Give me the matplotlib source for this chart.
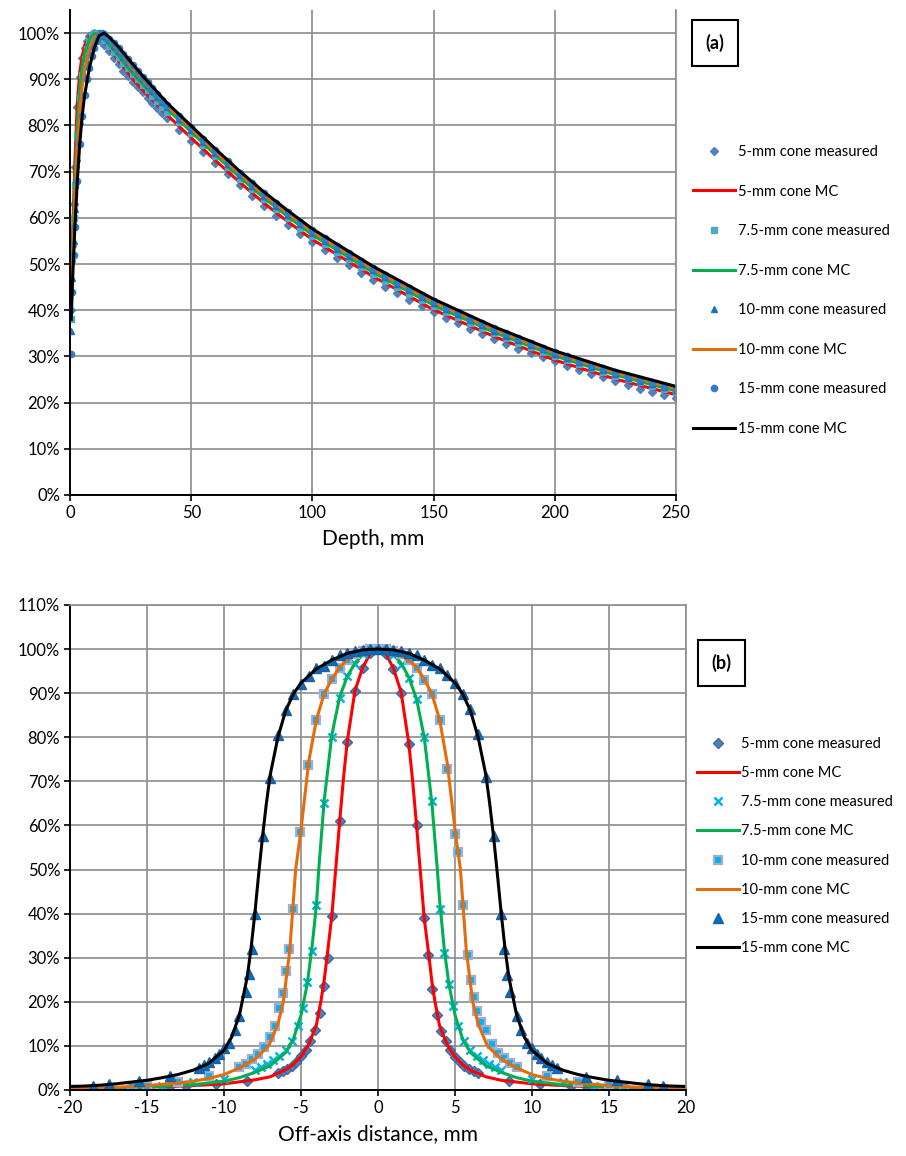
import matplotlib
matplotlib.use('Agg')
import matplotlib.pyplot as plt

plt.rcParams['font.family'] = ['Lato', 'DejaVu Sans']
plt.rcParams['axes.unicode_minus'] = False

# ---------------- (a) depth dose curves ----------------
mc_depth = [0.5, 1, 2, 3, 4, 5, 6, 8, 10, 12, 14, 16, 20, 25, 30, 40, 50, 60, 70, 80,
            90, 100, 125, 150, 175, 200, 225, 250]
mc_5 = [42, 55, 72, 85, 91.5, 95, 97.3, 99.4, 100, 99.4, 98.2, 96.8, 94.0, 90.6, 87.6, 82.3,
        77.3, 72.4, 67.7, 63.2, 59.1, 55.3, 47.3, 40.1, 34.3, 29.2, 25.1, 21.7]
mc_75 = [41, 53, 68, 80, 88, 92.5, 95.5, 98.7, 99.9, 99.8, 98.8, 97.6, 95.1, 91.8, 88.9, 83.6,
         78.6, 73.6, 68.8, 64.3, 60.2, 56.3, 48.2, 41.1, 35.2, 30.1, 26.0, 22.5]
mc_10 = [39.5, 50, 64, 75, 83, 88.5, 92, 96.5, 99, 100, 99.5, 98.4, 96.2, 92.8, 89.8, 84.3,
         79.3, 74.3, 69.5, 65.0, 60.9, 57.0, 48.9, 41.8, 35.8, 30.7, 26.5, 23.0]
mc_15 = [38, 46, 58, 68, 76, 82, 86.5, 92.5, 96.8, 99.4, 100, 99.2, 97.0, 93.8, 90.7, 84.9,
         79.9, 74.9, 70.1, 65.6, 61.5, 57.6, 49.5, 42.4, 36.4, 31.2, 27.0, 23.5]

meas_depth = [0.5, 1, 1.5, 2, 3, 4, 5, 6, 7, 8, 9, 10, 11, 12, 13, 14, 16, 18, 20, 22, 24, 26,
              28, 30, 32, 34, 36, 38,
              40, 45, 50, 55, 60, 65, 70, 75, 80, 85, 90, 95, 100, 105, 110, 115, 120, 125,
              130, 135, 140, 145, 150, 155, 160, 165, 170, 175, 180, 185, 190, 195, 200, 205,
              210, 215, 220, 225, 230, 235, 240, 245, 250]
meas_5 = [40, 54, 63, 71, 84, 90.5, 94.5, 96.8, 98.3, 99.3, 99.8, 100, 99.6, 99.0, 98.3, 97.5,
          96.2, 94.7, 93.3, 91.8, 90.6, 89.5, 88.3, 87.2, 86.0, 84.9, 83.8, 82.7,
          81.6, 79.1, 76.7, 74.2, 71.8, 69.4, 67.1, 64.8, 62.6, 60.5, 58.5, 56.6, 54.7, 53.0,
          51.3, 49.7, 48.1, 46.6, 45.1, 43.7, 42.3, 40.9, 39.6, 38.4, 37.2, 36.0, 34.9, 33.8,
          32.7, 31.7, 30.7, 29.8, 28.9, 28.0, 27.1, 26.3, 25.5, 24.7, 23.8, 23.0, 22.3, 21.6,
          21.0]
meas_75 = [38, 51, 60, 67, 78, 86, 91, 94.3, 96.6, 98.2, 99.3, 99.9, 100, 99.7, 99.2, 98.5,
           97.2, 96.0, 94.8, 93.6, 92.4, 91.2, 90.0, 88.8, 87.6, 86.4, 85.2, 84.0,
           83.0, 80.7, 78.3, 75.8, 73.3, 70.9, 68.5, 66.2, 64.0, 61.9, 59.9, 57.9, 56.0, 54.3,
           52.6, 51.0, 49.4, 47.9, 46.4, 45.0, 43.6, 42.3, 41.0, 39.7, 38.5, 37.3, 36.2, 35.1,
           34.0, 33.0, 32.0, 31.0, 30.1, 29.2, 28.3, 27.4, 26.6, 25.8, 25.1, 24.4, 23.7, 23.0,
           22.4]
meas_10 = [35.5, 47, 55, 62, 73, 81, 86.5, 90.5, 93.5, 95.8, 97.5, 98.8, 99.6, 100, 99.8, 99.4,
           98.4, 97.3, 96.1, 94.9, 93.7, 92.5, 91.2, 90.0, 88.7, 87.4, 86.2, 85.0,
           84.0, 81.4, 79.0, 76.5, 74.0, 71.6, 69.2, 66.9, 64.7, 62.6, 60.6, 58.6, 56.7, 55.0,
           53.3, 51.7, 50.1, 48.6, 47.1, 45.7, 44.3, 42.9, 41.6, 40.3, 39.1, 37.9, 36.7, 35.6,
           34.5, 33.5, 32.5, 31.5, 30.5, 29.6, 28.7, 27.8, 27.0, 26.2, 25.4, 24.7, 24.0, 23.3,
           22.7]
meas_15 = [30.5, 44, 52, 58, 68, 76, 82, 86.5, 90, 92.5, 95, 96.8, 98.2, 99.3, 100, 99.7,
           98.8, 97.8, 96.7, 95.5, 94.3, 93.0, 91.8, 90.5, 89.3, 88.0, 86.8, 85.5,
           84.5, 82.0, 79.6, 77.1, 74.6, 72.2, 69.8, 67.5, 65.3, 63.2, 61.2, 59.2, 57.3, 55.6,
           53.9, 52.3, 50.7, 49.2, 47.7, 46.2, 44.8, 43.4, 42.1, 40.8, 39.6, 38.4, 37.2, 36.1,
           35.0, 33.9, 32.9, 31.9, 30.9, 30.0, 29.1, 28.2, 27.4, 26.6, 25.8, 25.1, 24.4, 23.7,
           23.1]

# ---------------- (b) off-axis profiles ----------------
mc5_x = [-20, -16, -12, -10, -8, -7, -6, -5.5, -5, -4.5, -4, -3.7, -3.5, -3.3, -3, -2.75, -2.5,
         -2.25, -2, -1.5, -1, -0.5, 0, 0.5, 1, 1.5, 2, 2.25, 2.5, 2.75, 3, 3.3, 3.5, 3.7, 4, 4.5,
         5, 5.5, 6, 7, 8, 10, 12, 16, 20]
mc5_y = [0.2, 0.5, 1.0, 1.4, 2.3, 3.0, 4.6, 5.8, 7.6, 10.3, 14.8, 20.3, 24.8, 30.5, 39.5, 50,
         60.5, 70.5, 79, 90.5, 95.8, 99, 100, 99, 95.6, 90.2, 78.5, 70, 60, 49.5, 39, 30.5, 24.5,
         20, 14.5, 10.2, 7.5, 5.7, 4.5, 3.0, 2.2, 1.4, 1.0, 0.5, 0.2]
mc75_x = [-20, -16, -12, -10, -9, -8, -7, -6, -5.5, -5, -4.6, -4.3, -4, -3.85, -3.5, -3, -2.5,
          -2, -1.5, -1, 0, 1, 1.5, 2, 2.5, 3, 3.5, 3.85, 4, 4.3, 4.6, 5, 5.5, 6, 7, 8, 9, 10,
          12, 16, 20]
mc75_y = [0.3, 0.5, 1.2, 2.0, 2.8, 4.0, 5.5, 8.5, 11.5, 17, 24, 32, 42, 50, 65.5, 80.5, 89,
          93.8, 96.8, 98.8, 100, 98.8, 96.8, 93.6, 88.7, 80, 65, 50, 43, 32, 24, 17, 11.5, 8.5,
          5.5, 4.0, 2.8, 2.0, 1.2, 0.5, 0.3]
mc10_x = [-20, -17, -15, -13, -12, -11, -10, -9, -8, -7.1, -6.5, -6.15, -5.73, -5.35, -5, -4.5,
          -4, -3.5, -3, -2.5, -2, -1, 0, 1, 2, 2.5, 3, 3.5, 4, 4.5, 5, 5.35, 5.73, 6.15, 6.5,
          7.1, 8, 9, 10, 11, 12, 13, 15, 17, 20]
mc10_y = [0.3, 0.6, 1.0, 1.6, 2.0, 2.6, 3.5, 5.0, 7.0, 10, 15, 20, 31.7, 50, 59, 74.5, 84,
          89.8, 93.2, 95.8, 97.6, 99.5, 100, 99.5, 97.5, 95.8, 93.2, 89.8, 84, 74, 59, 50, 31.7,
          20, 15, 10, 7.0, 5.0, 3.5, 2.6, 2.0, 1.6, 1.0, 0.6, 0.3]
mc15_x = [-20, -19, -18, -17, -16, -15, -14, -13, -12, -11, -10, -9.5, -9, -8.5, -8.25, -8,
          -7.75, -7.5, -7.25, -7, -6.5, -6, -5.5, -5, -4, -3, -2, -1, 0, 1, 2, 3, 4, 5, 5.5, 6,
          6.5, 7, 7.25, 7.5, 7.75, 8, 8.25, 8.5, 9, 9.5, 10, 11, 12, 13, 14, 15, 16, 17, 18, 19,
          20]
mc15_y = [0.8, 0.9, 1.1, 1.4, 1.8, 2.2, 2.8, 3.5, 4.5, 6.0, 9.0, 12, 17, 25.5, 32, 40, 49,
          57.5, 65, 71.5, 80, 86, 89.8, 92.3, 95.5, 97.5, 99, 99.8, 100, 99.8, 99, 97.5, 95.5,
          92.3, 89.8, 86, 80, 71.5, 65, 57.5, 49, 40, 32, 25.5, 17, 12, 9.0, 6.0, 4.5, 3.5, 2.8,
          2.2, 1.8, 1.4, 1.1, 0.9, 0.8]

m5_x = [-18.5, -13.5, -12.5, -10.5, -8.5, -6.5, -6.2, -5.9, -5.6, -5.3, -5.0, -4.7, -4.4, -4.1,
        -3.8, -3.5, -3.25, -3.0, -2.5, -2.0, -1.5, -1.0, -0.5, 0, 0.5, 1.0, 1.5, 2.0, 2.5, 3.0,
        3.25, 3.5, 3.8, 4.1, 4.4, 4.7, 5.0, 5.3, 5.6, 5.9, 6.2, 6.5, 8.5, 10.5, 12.5, 13.5, 18.5]
m5_y = [0.3, 0.8, 1.0, 1.4, 2.1, 3.9, 4.3, 4.8, 5.5, 6.4, 7.6, 9.1, 11.0, 13.5, 17.5, 23.5, 30.0,
        39.5, 61.0, 79.0, 90.5, 95.7, 99.0, 100, 98.8, 95.5, 90.1, 78.4, 60.0, 39.0, 30.5, 23.0,
        17.0, 13.3, 11.0, 9.0, 7.5, 6.3, 5.4, 4.7, 4.2, 3.8, 2.0, 1.4, 1.0, 0.8, 0.3]
m75_x = [-20, -14, -12, -10, -8.0, -7.6, -7.2, -6.8, -6.4, -6.0, -5.6, -5.2, -4.9, -4.6, -4.3,
         -4.0, -3.5, -3.0, -2.5, -2.0, -1.5, -1.0, -0.5, 0, 0.5, 1.0, 1.5, 2.0, 2.5, 3.0, 3.5,
         4.0, 4.3, 4.6, 4.9, 5.2, 5.6, 6.0, 6.4, 6.8, 7.2, 7.6, 8.0, 10, 12, 14, 20]
m75_y = [0.2, 0.9, 1.7, 2.4, 4.6, 5.2, 5.9, 6.7, 7.7, 9.0, 11.0, 14.5, 18.5, 24.5, 31.5, 42,
         65, 80, 89, 93.8, 96.6, 98.8, 99.6, 100, 99.6, 98.6, 96.4, 93.5, 88.7, 80, 65.5, 41,
         31, 24, 19, 14.5, 11.0, 9.0, 7.7, 6.7, 5.9, 5.2, 4.6, 2.4, 1.7, 0.9, 0.2]
m10_x = [-16, -15, -13, -11, -9.0, -8.6, -8.2, -7.8, -7.4, -7.0, -6.7, -6.4, -6.2, -6.0, -5.75,
         -5.5, -5.06, -4.57, -4.02, -3.52, -3.0, -2.5, -2.0, -1.5, -1.0, -0.5, 0, 0.5, 1.0, 1.5,
         2.0, 2.5, 3.0, 3.5, 4.0, 4.45, 5.0, 5.2, 5.5, 5.85, 6.05, 6.25, 6.45, 6.7, 7.0, 7.4,
         7.8, 8.2, 8.6, 9.0, 11, 13, 15, 16]
m10_y = [0.8, 1.0, 1.7, 3.1, 5.3, 6.0, 7.0, 8.2, 9.8, 12.0, 14.5, 18.5, 22, 27, 32, 41, 58.4,
         73.6, 83.9, 89.7, 93.3, 95.7, 97.6, 98.8, 99.5, 99.9, 100, 99.9, 99.5, 98.8, 97.4, 95.7,
         93.0, 89.7, 83.8, 72.8, 58, 54, 42, 30.5, 25, 21, 18, 15.5, 13.5, 10.5, 8.5, 7.2, 6.2,
         5.3, 3.1, 1.7, 1.2, 0.9]
m15_x = [-18.5, -17.5, -15.5, -13.5, -11.6, -11.3, -11.0, -10.6, -10.3, -10.0, -9.7, -9.3, -9.0,
         -8.6, -8.4, -8.2, -8.0, -7.5, -7.0, -6.5, -6.0, -5.5, -5.0, -4.5, -4.0, -3.5, -3.0,
         -2.5, -2.0, -1.5, -1.0, -0.5, 0, 0.5, 1.0, 1.5, 2.0, 2.5, 3.0, 3.5, 4.0, 4.5, 5.0, 5.5,
         6.0, 6.5, 7.0, 7.5, 8.0, 8.2, 8.4, 8.6, 9.0, 9.3, 9.7, 10.0, 10.3, 10.6, 11.0, 11.3,
         11.6, 13.5, 15.5, 17.5, 18.5]
m15_y = [0.8, 1.3, 2.1, 3.2, 5.0, 5.6, 6.3, 7.3, 8.2, 9.5, 10.6, 13.5, 16.8, 22.3, 26.3, 32, 40,
         57.6, 70.8, 80.5, 86.1, 89.7, 92.1, 93.8, 95.6, 96.2, 97.4, 98.6, 99.2, 99.5, 99.8, 100,
         100, 100, 99.8, 99.5, 99.2, 98.6, 97.5, 96.3, 95.6, 94, 92.2, 89.8, 86.3, 80.8, 71.0,
         57.5, 40, 32, 26, 22.3, 16.8, 13.5, 10.6, 9.5, 8.2, 7.3, 6.3, 5.6, 5.0, 3.0, 2.3, 1.4,
         0.8]

RED, GREEN, ORANGE, BLACK = '#FF0000', '#00B050', '#E46C0A', '#000000'
GRID = '#8C8C8C'


def style_axes(ax, xlim, xticks, ymax, yticks, top_box):
    ax.set_xlim(xlim)
    ax.set_ylim(0, ymax)
    ax.set_xticks(xticks)
    ax.set_yticks(yticks)
    ax.set_yticklabels(['%d%%' % v for v in yticks])
    ax.grid(True, color=GRID, lw=1.2)
    ax.set_axisbelow(True)
    for s in ('left', 'bottom'):
        ax.spines[s].set_color('black')
        ax.spines[s].set_linewidth(1.4)
    ax.spines['right'].set_color(GRID)
    ax.spines['right'].set_linewidth(1.2)
    if top_box:
        ax.spines['top'].set_color(GRID)
        ax.spines['top'].set_linewidth(1.2)
    else:
        ax.spines['top'].set_visible(False)
    ax.tick_params(direction='out', length=4, width=1.2, labelsize=12, color='black', pad=3)


fig = plt.figure(figsize=(9.06, 11.56), dpi=100)

# ---- top panel
ax1 = fig.add_axes([0.0773, 0.5718, 0.6689, 0.4196])
ms = 4.5
ax1.plot(meas_depth, meas_5, 'D', color='#4F81BD', ms=ms - 0.8, ls='none', label='5-mm cone measured')
ax1.plot(mc_depth, mc_5, color=RED, lw=2.2, label='5-mm cone MC')
ax1.plot(meas_depth, meas_75, 's', color='#4BACC6', ms=ms - 0.5, ls='none', label='7.5-mm cone measured')
ax1.plot(mc_depth, mc_75, color=GREEN, lw=2.2, label='7.5-mm cone MC')
ax1.plot(meas_depth, meas_10, '^', color='#1F72C0', ms=ms, ls='none', label='10-mm cone measured')
ax1.plot(mc_depth, mc_10, color=ORANGE, lw=2.2, label='10-mm cone MC')
ax1.plot(meas_depth, meas_15, 'o', color='#2E7FC8', ms=ms, ls='none', label='15-mm cone measured')
ax1.plot(mc_depth, mc_15, color=BLACK, lw=2.2, label='15-mm cone MC')
style_axes(ax1, (0, 250), range(0, 251, 50), 105, list(range(0, 101, 10)), False)
ax1.set_xlabel('Depth, mm', fontsize=15, labelpad=6)
ax1.legend(loc='upper left', bbox_to_anchor=(0.765, 0.8745), bbox_transform=fig.transFigure,
           frameon=False, fontsize=10.5, labelspacing=1.75, handlelength=2.9,
           handletextpad=0.15, borderpad=0, borderaxespad=0)
fig.text(0.789, 0.9628, '(a)', fontsize=13, fontweight='bold', ha='center', va='center',
         bbox=dict(boxstyle='square,pad=0.75', fc='white', ec='black', lw=1.5))

# ---- bottom panel
ax2 = fig.add_axes([0.0773, 0.0571, 0.6799, 0.4196])
ax2.plot(m5_x, m5_y, 'D', color='#4F81BD', mec='#3A6AA0', ms=5.5, ls='none', label='5-mm cone measured')
ax2.plot(mc5_x, mc5_y, color=RED, lw=2.2, label='5-mm cone MC')
ax2.plot(m75_x, m75_y, 'x', color='#00B0F0', ms=5.5, mew=1.8, ls='none', label='7.5-mm cone measured')
ax2.plot(mc75_x, mc75_y, color=GREEN, lw=2.2, label='7.5-mm cone MC')
ax2.plot(m10_x, m10_y, 's', color='#00B0F0', mec='#A3AECF', mew=1.6, ms=6, ls='none', label='10-mm cone measured')
ax2.plot(mc10_x, mc10_y, color=ORANGE, lw=2.2, label='10-mm cone MC')
ax2.plot(m15_x, m15_y, '^', color='#0070C0', mec='#1F5F9F', ms=6.5, ls='none', label='15-mm cone measured')
ax2.plot(mc15_x, mc15_y, color=BLACK, lw=2.2, label='15-mm cone MC')
style_axes(ax2, (-20, 20), range(-20, 21, 5), 110, list(range(0, 111, 10)), True)
ax2.set_xlabel('Off-axis distance, mm', fontsize=15, labelpad=6)
ax2.legend(loc='upper left', bbox_to_anchor=(0.769, 0.3625), bbox_transform=fig.transFigure,
           frameon=False, fontsize=10.5, labelspacing=1.04, handlelength=2.9,
           handletextpad=0.15, borderpad=0, borderaxespad=0)
fig.text(0.796, 0.4265, '(b)', fontsize=13, fontweight='bold', ha='center', va='center',
         bbox=dict(boxstyle='square,pad=0.75', fc='white', ec='black', lw=1.5))

fig.savefig('out.png', dpi=100)
